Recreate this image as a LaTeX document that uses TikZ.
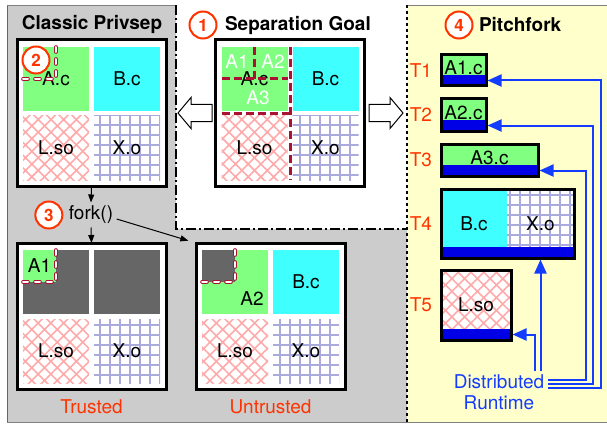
\documentclass[tikz,border=0pt]{standalone}
\usepackage{fontspec}
\setmainfont{TeX Gyre Heros}
\usetikzlibrary{positioning, arrows.meta, patterns.meta}

\definecolor{bggray}{RGB}{204,204,204}
\definecolor{bgyellow}{RGB}{255,255,204}
\definecolor{srcgreen}{RGB}{128,255,128}
\definecolor{srccyan}{RGB}{64,255,255}
\definecolor{hidden}{RGB}{102,102,102}
\definecolor{libpink}{RGB}{255,170,170}
\definecolor{objlav}{RGB}{170,170,221}
\definecolor{markred}{RGB}{255,51,0}
\definecolor{cutred}{RGB}{170,17,51}
\definecolor{rtblue}{RGB}{20,60,255}
\definecolor{barblue}{RGB}{0,0,230}

\begin{document}
\begin{tikzpicture}[x=1pt, y=-1pt, node distance=5pt,
    font=\fontsize{19}{21}\selectfont,
    proc/.style = {draw, line width=3pt, fill=white, minimum width=149pt, minimum height=146pt, inner sep=0pt, outer sep=0pt},
    cell/.style = {minimum width=66pt, minimum height=64pt, inner sep=0pt, outer sep=0pt},
    src/.style = {cell, fill=srcgreen},
    srcb/.style = {cell, fill=srccyan},
    lib/.style = {cell, preaction={fill=white}, pattern={Hatch[angle=45,distance=9pt,line width=1.6pt]}, pattern color=libpink},
    obj/.style = {cell, preaction={fill=white}, pattern={Hatch[angle=0,distance=10pt,line width=1.4pt]}, pattern color=objlav},
    hid/.style = {cell, fill=hidden},
    quarter/.style = {minimum width=33pt, minimum height=32pt, inner sep=0pt, outer sep=0pt, anchor=north west},
    cut/.style = {draw=cutred, line width=3pt, dash pattern=on 8pt off 4pt},
    seam/.style = {draw=cutred, line width=0.8pt, double=white, double distance=2pt, dash pattern=on 5pt off 7pt, line cap=round},
    badge/.style = {circle, draw=markred, line width=2pt, fill=white, text=markred, minimum size=27pt, inner sep=0pt, font=\fontsize{17}{17}\selectfont\bfseries},
    title/.style = {font=\fontsize{19}{21}\selectfont\bfseries},
    tlabel/.style = {text=markred},
    panel/.style = {line width=1.5pt, dash pattern=on 10pt off 3pt on 2pt off 3pt},
    hollow/.style = {draw, line width=1pt, fill=white},
    tbox/.style = {draw, line width=3pt, inner sep=0pt, text depth=5pt,
      path picture={\fill[barblue] (path picture bounding box.south west) rectangle ([yshift=11pt]path picture bounding box.south east);}},
    rt/.style = {rtblue, line width=2pt, -{Triangle[length=14pt,width=12pt]}},
    call/.style = {line width=1pt, -{Triangle[length=8pt,width=6pt]}}]
    \useasboundingbox (0,0) rectangle (607,425);

    % panels
    \filldraw[fill=bggray, draw=black!60] (7,5) rectangle (407,422);
    \fill[bgyellow] (407,5) rectangle (607,422);
    \draw[black!50] (7,5) -- (607,5) (7,422) -- (607,422);
    \fill[white] (176,5) rectangle (407,229);
    \draw[panel] (176,5) -- (176,229) -- (407,229);
    \draw[line width=1.5pt, dashed] (407,5) -- (407,422);

    % titles
    \node[title] (cptitle) at (92,24) {Classic Privsep};
    \node[badge] (b1) at (203,25) {1};
    \node[title, right=4pt of b1] (sgtitle) {Separation Goal};
    \node[badge] (b4) at (459,25) {4};
    \node[title, right=2pt of b4] (pftitle) {Pitchfork};

    % separation goal
    \node[proc] (sg) at (290,113) {};
    \node[src, below right=7pt and 6pt of sg.north west] (sgA) {A.c};
    \node[srcb, right=of sgA] (sgB) {B.c};
    \node[lib, below=of sgA] (sgL) {L.so};
    \node[obj, right=of sgL] (sgX) {X.o};
    \node[text=white] (sgA1) at ([shift={(-17.5pt,17pt)}]sgA.center) {A1};
    \node[text=white] (sgA2) at ([shift={(18.5pt,17pt)}]sgA.center) {A2};
    \node[text=white] (sgA3) at ([shift={(3.5pt,-19pt)}]sgA.center) {A3};
    \draw[cut] (sgA.north) -- (sgA.center) (sgA.west) -- (sgA.east)
        ([yshift=-2.5pt]sgA.south west) -- ([xshift=2.5pt,yshift=-2.5pt]sgA.south east)
        ([xshift=2.5pt]sgA.north east) -- ([xshift=2.5pt]sgL.south east);
    \draw[hollow] (178,113) -- (191,97.5) -- (191,104.5) -- (212,104.5) -- (212,121.5) -- (191,121.5) -- (191,128.5) -- cycle;
    \draw[hollow] (403,113) -- (390,97.5) -- (390,104.5) -- (369,104.5) -- (369,121.5) -- (390,121.5) -- (390,128.5) -- cycle;

    % classic privsep
    \node[proc] (cp) at (91.5,113) {};
    \node[src, below right=7pt and 6pt of cp.north west] (cpA) {A.c};
    \node[srcb, right=of cpA] (cpB) {B.c};
    \node[lib, below=of cpA] (cpL) {L.so};
    \node[obj, right=of cpL] (cpX) {X.o};
    \draw[seam] (cpA.north) -- (cpA.center) -- (cpA.west);
    \node[badge] (b2) at ([shift={(13pt,-13pt)}]cpA.north west) {2};

    \node (fork) at (91,215) {fork()};
    \node[badge, left=2pt of fork] (b3) {3};
    \node[proc] (tr) at (91.5,316) {};
    \node[proc] (ut) at (270.5,316) {};
    \draw[call] (cp.south) -- (fork.north);
    \draw[call] (fork.south) -- (tr.north);
    \draw[call, shorten >=8pt] ([yshift=-4pt]fork.east) -- (ut.north west);

    % trusted
    \node[hid, below right=7pt and 6pt of tr.north west] (trA) {};
    \node[hid, right=of trA] (trB) {};
    \node[lib, below=of trA] (trL) {L.so};
    \node[obj, right=of trL] (trX) {X.o};
    \node[quarter, fill=srcgreen] (trQ) at (trA.north west) {A1};
    \draw[seam] (trA.north) -- (trA.center) -- (trA.west);
    \node[text=markred, below=7pt of tr] (trlbl) {Trusted};

    % untrusted
    \node[src, below right=7pt and 6pt of ut.north west] (utA) {};
    \node[srcb, right=of utA] (utB) {B.c};
    \node[lib, below=of utA] (utL) {L.so};
    \node[obj, right=of utL] (utX) {X.o};
    \node[quarter, fill=hidden] (utQ) at (utA.north west) {};
    \node (utA2) at ([shift={(17pt,-17pt)}]utA.center) {A2};
    \draw[seam] (utA.north) -- (utA.center) -- (utA.west);
    \node[text=markred, below=7pt of ut] (utlbl) {Untrusted};

    % pitchfork
    \node[tbox, fill=srcgreen, minimum width=45pt, minimum height=31pt] (pf1) at (463.5,70.5) {A1.c};
    \node[tbox, fill=srcgreen, minimum width=45pt, minimum height=32pt] (pf2) at (463.5,115) {A2.c};
    \node[tbox, fill=srcgreen, minimum width=97pt, minimum height=32pt] (pf3) at (489.5,160) {A3.c};
    \node[srcb, minimum width=66pt, minimum height=69pt, anchor=north west] (pf4B) at (441,189) {B.c};
    \node[obj, minimum width=67pt, minimum height=69pt, right=0pt of pf4B] (pf4X) {X.o};
    \node[tbox, minimum width=133pt, minimum height=69pt] (pf4) at (507.5,223.5) {};
    \node[lib, minimum width=70pt, minimum height=70pt] (pf5L) at (476,305) {L.so};
    \node[tbox, minimum width=70pt, minimum height=70pt] (pf5) at (476,305) {};
    \node[tlabel, left=4pt of pf1] (t1) {T1};
    \node[tlabel, left=4pt of pf2] (t2) {T2};
    \node[tlabel, left=4pt of pf3] (t3) {T3};
    \node[tlabel, left=4pt of pf4] (t4) {T4};
    \node[tlabel, left=4pt of pf5] (t5) {T5};

    \node[text=rtblue, align=center] (dr) at (499,392) {Distributed\\Runtime};
    \coordinate (up1) at (601,0);
    \coordinate (up2) at (593,0);
    \coordinate (up3) at (586,0);
    \coordinate (up5) at (535,0);
    \coordinate (pf1in) at ([yshift=7pt]pf1.south east);
    \coordinate (pf2in) at ([yshift=7pt]pf2.south east);
    \coordinate (pf3in) at ([yshift=7pt]pf3.south east);
    \coordinate (pf5in) at ([yshift=7pt]pf5.south east);
    \draw[rt] ([yshift=4pt]dr.east) -| (up1 |- pf1in) -- (pf1in);
    \draw[rt] ([yshift=8pt]dr.east) -| (up2 |- pf2in) -- (pf2in);
    \draw[rt] ([yshift=12.5pt]dr.east) -| (up3 |- pf3in) -- (pf3in);
    \draw[rt] (dr.north -| pf4X.south) -- (pf4X.south |- pf4.south);
    \draw[rt] (dr.north -| up5) |- (pf5in);
\end{tikzpicture}
\end{document}
